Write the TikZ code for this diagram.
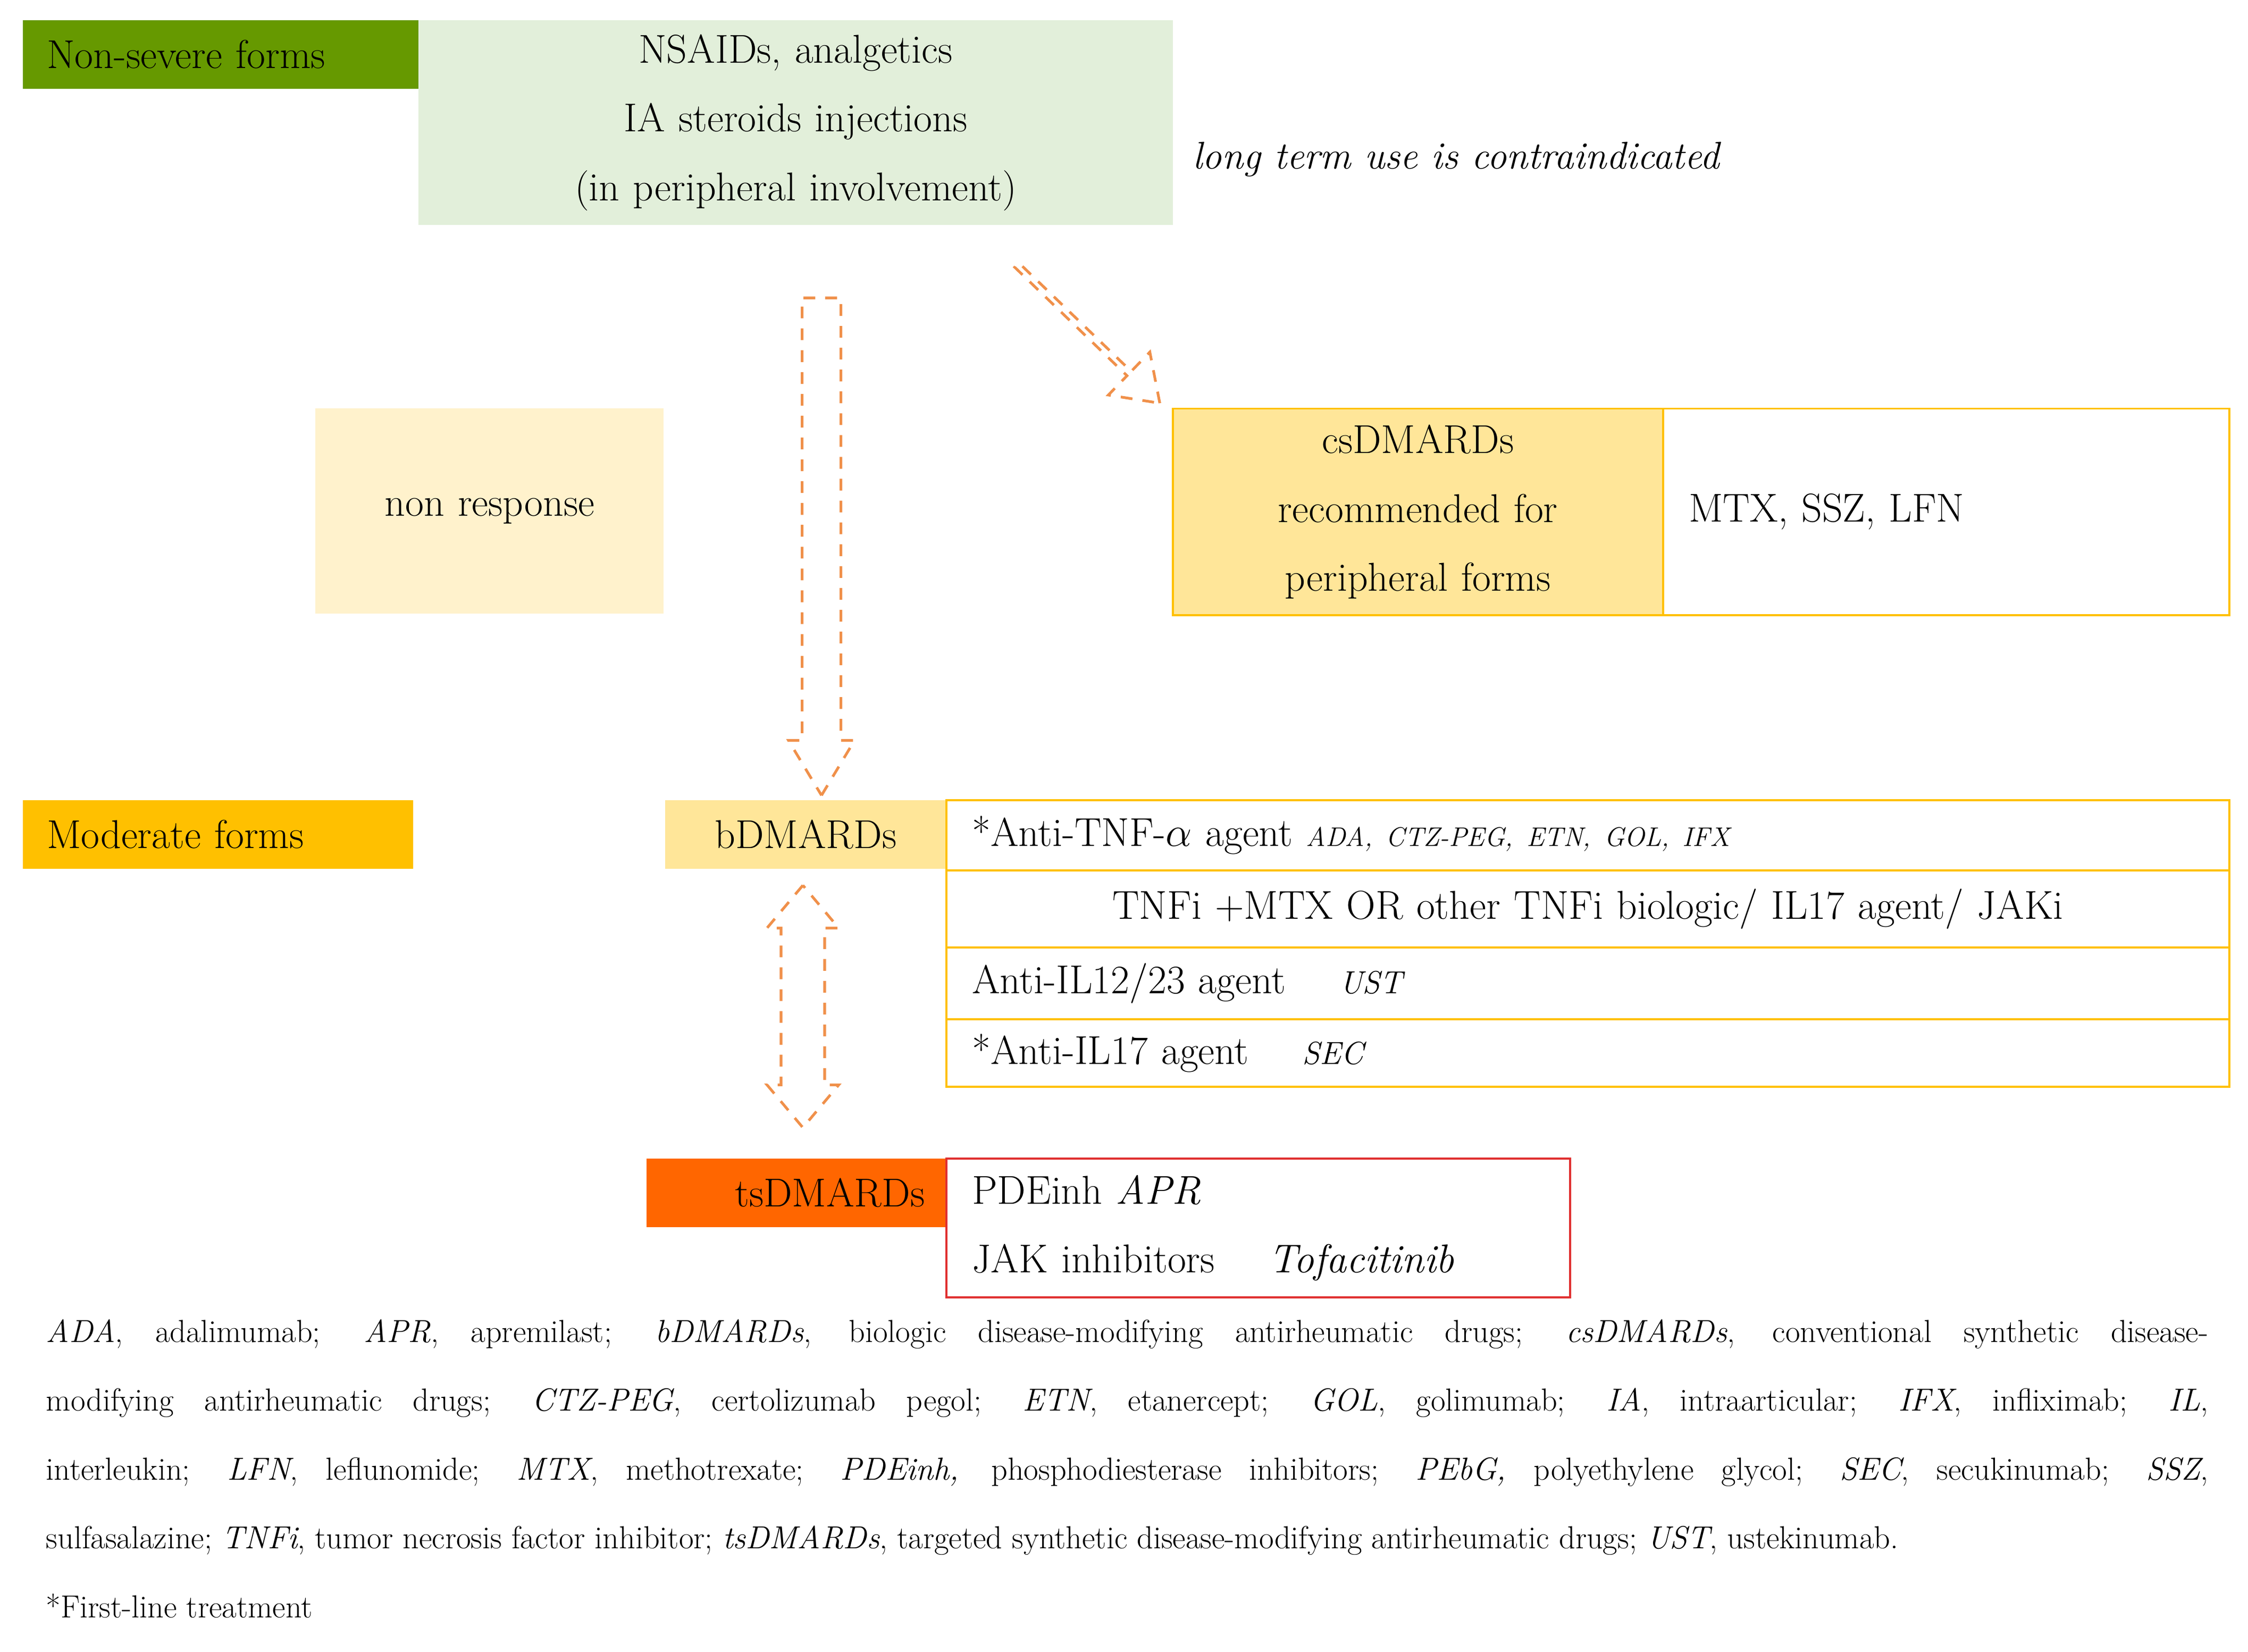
\documentclass[tikz,border=0pt]{standalone}
\usepackage{tikz}
\usetikzlibrary{shapes.arrows}
\definecolor{nsgreen}{HTML}{669900}
\definecolor{palegreen}{HTML}{E2EFDA}
\definecolor{paleyellow}{HTML}{FFF2CC}
\definecolor{midyellow}{HTML}{FFE699}
\definecolor{gold}{HTML}{FFC000}
\definecolor{tsorange}{HTML}{FF6600}
\definecolor{pdered}{HTML}{E03030}
\definecolor{arrorange}{HTML}{F0904A}
\tikzset{
  box/.style={anchor=north west, inner ysep=0pt, inner xsep=0.5cm, outer sep=0pt, line width=1.2pt,
    font={\fontsize{24}{41}\selectfont}},
  blockarr/.style={draw=arrorange, dashed, line width=1.6pt, dash pattern=on 7pt off 6pt,
    inner sep=0pt, outer sep=0pt, single arrow head indent=0pt}
}
\begin{document}
\begin{tikzpicture}[x=0.03cm,y=-0.03cm]
        \useasboundingbox[fill=white] (0,0) rectangle (1568,1152);

        % non-severe forms
        \node[box, fill=nsgreen, minimum height=1.44cm, text width=7.28cm, align=left] (ns) at (16,14) {Non-severe forms};
        \node[box, fill=palegreen, minimum height=4.29cm, text width=14.78cm, align=center] (nsaid) at (292,14) {NSAIDs, analgetics\\IA steroids injections\\(in peripheral involvement)};
        \node[anchor=west, font={\fontsize{23}{26}\selectfont\itshape}] (note) at (828,111) {long term use is contraindicated};

        \node[box, fill=paleyellow, minimum height=4.29cm, text width=6.29cm, align=center] (nonresp) at (220,285) {non response};
        \node[box, fill=midyellow, draw=gold, minimum height=4.32cm, text width=9.26cm, align=center] (cs) at (818,285) {csDMARDs\\recommended for\\peripheral forms};
        \node[box, draw=gold, minimum height=4.32cm, text width=10.77cm, inner xsep=0.54cm, align=left] (mtx) at (1160,285) {MTX, SSZ, LFN};

        % moderate forms
        \node[box, fill=gold, minimum height=1.44cm, text width=7.16cm, align=left] (mod) at (16,558) {Moderate forms};
        \node[box, fill=midyellow, minimum height=1.44cm, text width=4.88cm, align=center] (bd) at (464,558) {bDMARDs};
        \node[box, draw=gold, minimum height=1.47cm, text width=25.77cm, inner xsep=0.54cm, align=left] (tnf) at (660,558) {*Anti-TNF-$\alpha$ agent {\fontsize{16}{18}\selectfont\itshape ADA, CTZ-PEG, ETN, GOL, IFX}};
        \node[box, draw=gold, minimum height=1.62cm, text width=25.77cm, inner xsep=0.54cm, align=center] (tnfi) at (tnf.south west) {TNFi +MTX OR other TNFi biologic/ IL17 agent/ JAKi};
        \node[box, draw=gold, minimum height=1.5cm, text width=25.77cm, inner xsep=0.54cm, align=left] (il12) at (tnfi.south west) {Anti-IL12/23 agent \quad{\itshape\fontsize{19}{20}\selectfont UST}};
        \node[box, draw=gold, minimum height=1.41cm, text width=25.77cm, inner xsep=0.54cm, align=left] (il17) at (il12.south west) {*Anti-IL17 agent \quad{\itshape\fontsize{19}{20}\selectfont SEC}};

        % targeted synthetic
        \node[box, fill=tsorange, minimum height=1.44cm, text width=5.37cm, inner xsep=0.45cm, align=right] (ts) at (451,808) {tsDMARDs};
        \node[box, draw=pdered, minimum height=2.91cm, text width=11.97cm, inner xsep=0.54cm, align=left] (pde) at (660,808) {PDEinh {\itshape APR}\\JAK inhibitors \quad{\itshape Tofacitinib}};

        % block arrows
        \node[blockarr, single arrow, minimum height=10.41cm, minimum width=1.38cm, text width=0.66cm,
          single arrow tip angle=62, shape border rotate=270] (arrDown) at (573,370) {};
        \node[blockarr, single arrow, minimum height=4.16cm, minimum width=1.25cm, text width=0.6cm,
          single arrow tip angle=70, rotate=-44] (arrDiag) at (758,232) {};
        \node[blockarr, double arrow, minimum height=5.07cm, minimum width=1.5cm, text width=0.72cm,
          double arrow tip angle=80, double arrow head indent=0pt, shape border rotate=90] (arrBoth) at (560,702) {};

        % legend
        \node[anchor=north west, inner sep=0pt, text width=45.24cm, align=justify,
          font={\fontsize{19}{41}\selectfont}] (legend) at (32,920) {%
          \textit{ADA}, adalimumab; \textit{APR}, apremilast; \textit{bDMARDs}, biologic disease-modifying antirheumatic drugs; \textit{csDMARDs}, conventional synthetic disease-\linebreak
          modifying antirheumatic drugs; \textit{CTZ-PEG}, certolizumab pegol; \textit{ETN}, etanercept; \textit{GOL}, golimumab; \textit{IA}, intraarticular; \textit{IFX}, infliximab; \textit{IL},\linebreak
          interleukin; \textit{LFN}, leflunomide; \textit{MTX}, methotrexate; \textit{PDEinh,} phosphodiesterase inhibitors; \textit{PEbG,} polyethylene glycol; \textit{SEC}, secukinumab; \textit{SSZ},\linebreak
          sulfasalazine; \textit{TNFi}, tumor necrosis factor inhibitor; \textit{tsDMARDs}, targeted synthetic disease-modifying antirheumatic drugs; \textit{UST}, ustekinumab.\\{}
          *First-line treatment};
\end{tikzpicture}
\end{document}
